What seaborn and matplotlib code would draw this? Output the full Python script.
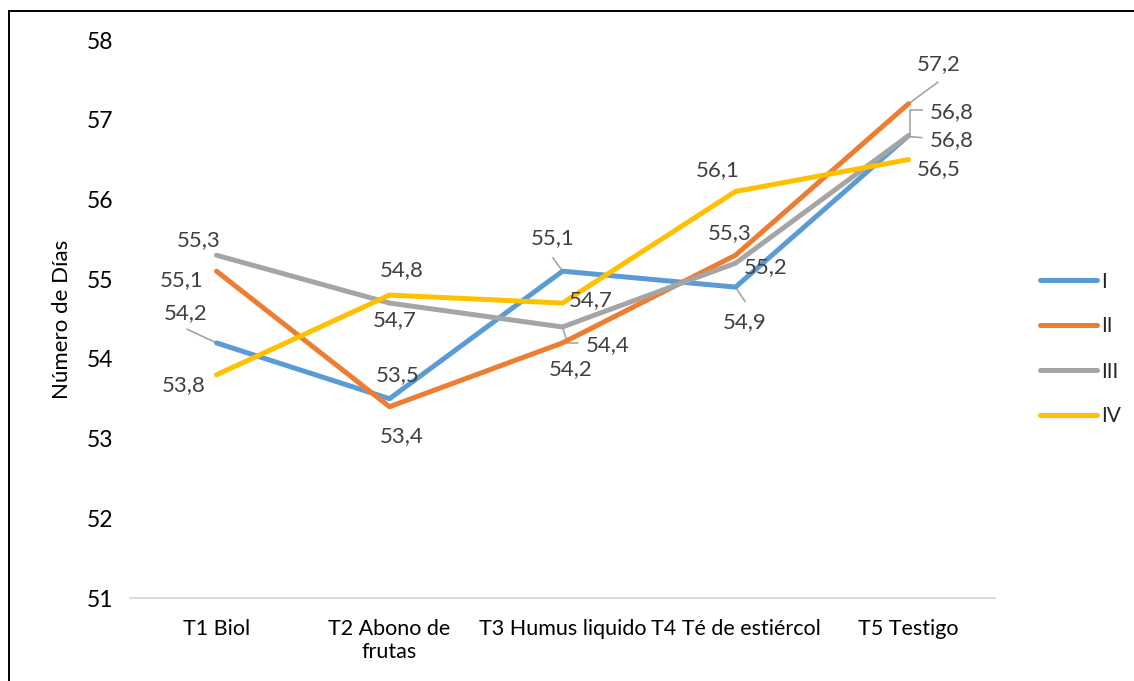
import matplotlib
matplotlib.use("Agg")
import matplotlib.pyplot as plt
from matplotlib.lines import Line2D
import numpy as np
import pandas as pd
import seaborn as sns

# Treatments and series values (days)
tratamientos = ["T1 Biol", "T2 Abono de\nfrutas", "T3 Humus liquido", "T4 Té de estiércol", "T5 Testigo"]
series = ["I", "II", "III", "IV"]
serie_I = [54.2, 53.5, 55.1, 54.9, 56.8]
serie_II = [55.1, 53.4, 54.2, 55.3, 57.2]
serie_III = [55.3, 54.7, 54.4, 55.2, 56.8]
serie_IV = [53.8, 54.8, 54.7, 56.1, 56.5]
y_ticks = [51, 52, 53, 54, 55, 56, 57, 58]
colores = ["#5B9BD5", "#ED7D31", "#A5A5A5", "#FFC000"]

valores = {"I": serie_I, "II": serie_II, "III": serie_III, "IV": serie_IV}
df = pd.DataFrame(
    [(t, s, valores[s][i]) for s in series for i, t in enumerate(tratamientos)],
    columns=["tratamiento", "serie", "dias"],
)

sns.set_theme(style="white")
plt.rcParams["font.family"] = ["Lato", "DejaVu Sans"]

fig = plt.figure(figsize=(11.34, 6.81), dpi=100)
ax = fig.add_axes([130 / 1134, 1 - 598 / 681, 865 / 1134, 558 / 681])

sns.lineplot(
    data=df, x="tratamiento", y="dias", hue="serie", hue_order=series,
    palette=colores, linewidth=3.6, sort=False, ax=ax, legend=False,
)
for ln in ax.lines:
    ln.set_solid_capstyle("round")
    ln.set_solid_joinstyle("round")

ax.set_xlim(-0.5, 4.5)
ax.set_ylim(51, 58)
ax.set_yticks(y_ticks)
ax.set_yticklabels([str(v) for v in y_ticks], fontsize=16.5, color="#000000")
ax.set_xticks(range(len(tratamientos)))
ax.set_xticklabels(tratamientos, fontsize=15.5, color="#000000", linespacing=1.2)
ax.tick_params(axis="y", length=0, pad=12)
ax.tick_params(axis="x", length=0, pad=15)
for side in ["top", "right", "left"]:
    ax.spines[side].set_visible(False)
ax.spines["bottom"].set_color("#D9D9D9")
ax.spines["bottom"].set_linewidth(1.3)
ax.grid(False)
ax.set_xlabel("")
ax.set_ylabel("Número de Días", fontsize=16, color="#000000")
ax.yaxis.set_label_coords(-0.067, 0.5)

# Data label placement: (series, category index) -> pixel offset (dx right, dy down)
offsets = {
    ("I", 0): (-31, -30), ("II", 0): (-35, 9), ("III", 0): (-18, -15), ("IV", 0): (-33, 10),
    ("I", 1): (8, -24), ("II", 1): (12, 29), ("III", 1): (5, 17), ("IV", 1): (12, -25),
    ("I", 2): (-10, -33), ("II", 2): (8, 26), ("III", 2): (45, 18), ("IV", 2): (28, -3),
    ("I", 3): (9, 35), ("II", 3): (-6, -22), ("III", 3): (30, 4), ("IV", 3): (-18, -21),
    ("I", 4): (43, 4), ("II", 4): (30, -40), ("III", 4): (43, -24), ("IV", 4): (30, 10),
}
# Leader lines, as pixel offsets from the point
leaders = {
    ("I", 0): [(0, 0), (-30, -14)],
    ("I", 2): [(0, 0), (-10, -14)],
    ("III", 2): [(0, 0), (5, 16), (16, 16)],
    ("I", 3): [(0, 0), (10, 15)],
    ("II", 4): [(0, 0), (30, -22)],
    ("III", 4): [(1, 0), (1, -26), (14, -26)],
    ("I", 4): [(1, 1), (14, 2)],
}

fig.canvas.draw()
to_disp = ax.transData
to_data = ax.transData.inverted()

for s in series:
    for i, v in enumerate(valores[s]):
        dx, dy = offsets[(s, i)]
        ax.annotate(
            f"{v:.1f}".replace(".", ","), xy=(i, v), xytext=(dx, -dy),
            textcoords="offset pixels", ha="center", va="center",
            fontsize=16, color="#404040",
        )
        if (s, i) in leaders:
            px, py = to_disp.transform((i, v))
            pts = [to_data.transform((px + ox, py - oy)) for ox, oy in leaders[(s, i)]]
            pts = np.array(pts)
            ax.plot(pts[:, 0], pts[:, 1], color="#A5A5A5", lw=1.2, zorder=1,
                    solid_capstyle="butt")

handles = [Line2D([0], [0], color=c, lw=3.6, solid_capstyle="round") for c in colores]
fig.legend(
    handles, series, loc="center left", bbox_to_anchor=(1030 / 1134, 1 - 349 / 681),
    frameon=False, fontsize=15, handlelength=2.7, handletextpad=0.2,
    labelspacing=1.2, borderpad=0,
)

# Outer frame on top and left edges
fig.add_artist(Line2D([9 / 1134, 1.0], [1 - 11 / 681, 1 - 11 / 681], color="black", lw=1.4,
                      transform=fig.transFigure))
fig.add_artist(Line2D([9 / 1134, 9 / 1134], [0, 1 - 11 / 681], color="black", lw=1.4,
                      transform=fig.transFigure))

fig.savefig("out.png", dpi=100)
